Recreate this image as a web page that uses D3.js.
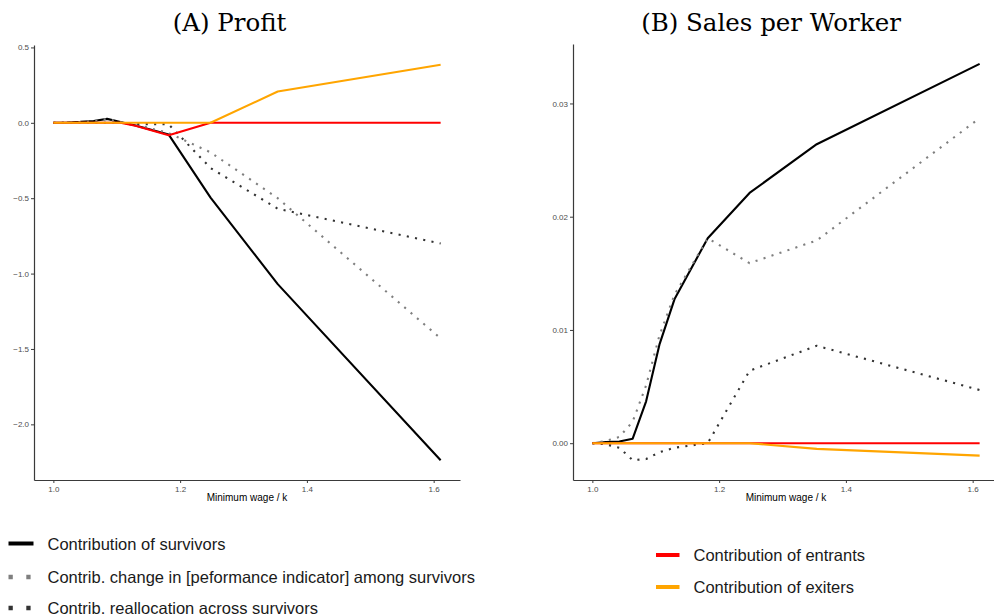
<!DOCTYPE html>
<html>
<head>
<meta charset="utf-8">
<script src="https://cdn.jsdelivr.net/npm/d3@7"></script>
<style>
  body { margin: 0; background: #fff; }
  svg { display: block; }
</style>
</head>
<body>
<div id="chart"></div>
<script>
// minimum wage grid (x)
var wageGrid = [1.0, 1.0213, 1.0426, 1.0636, 1.0848, 1.1058, 1.1295, 1.182, 1.248, 1.354, 1.611];

// (A) Profit
var profitSurvivors = [0, 0.002, 0.006, 0.012, 0.026, 0.006, -0.018, -0.078, -0.496, -1.07, -2.238];
var profitChange    = [0, 0.002, 0.006, 0.012, 0.026, 0.006, -0.010, -0.068, -0.196, -0.50, -1.43];
var profitRealloc   = [0, 0, 0, 0, 0, 0, -0.008, -0.010, -0.300, -0.57, -0.80];
var profitEntrants  = [0, 0, 0, 0, 0, 0, -0.020, -0.082, 0, 0, 0];
var profitExiters   = [0, 0, 0, 0, 0, 0, 0, 0, 0, 0.208, 0.385];

// (B) Sales per Worker
var salesSurvivors = [0, 0.0001, 0.00015, 0.0004, 0.0037, 0.0087, 0.0127, 0.0181, 0.0221, 0.0264, 0.0335];
var salesChange    = [0, 0.0002, 0.00055, 0.0019, 0.0051, 0.0095, 0.0131, 0.0181, 0.0159, 0.0179, 0.0287];
var salesRealloc   = [0, -0.0001, -0.0004, -0.0015, -0.0014, -0.0008, -0.0004, 0, 0.0064, 0.0086, 0.0047];
var salesEntrants  = [0, 0, 0, 0, 0, 0, 0, 0, 0, 0, 0];
var salesExiters   = [0, 0, 0, 0, 0, 0, 0, 0, 0, -0.0005, -0.0011];

// ticks
var xTicks = [1.0, 1.2, 1.4, 1.6];
var profitTicks = [0.5, 0, -0.5, -1.0, -1.5, -2.0];
var salesTicks = [0, 0.01, 0.02, 0.03];

// legend labels
var leftLegend = ["Contribution of survivors",
                  "Contrib. change in [peformance indicator] among survivors",
                  "Contrib. reallocation across survivors"];
var rightLegend = ["Contribution of entrants", "Contribution of exiters"];

var w = 994, h = 616;

var svg = d3.select("#chart").append("svg")
    .attr("width", w)
    .attr("height", h);

// line styles, in drawing order
var styles = {
    survivors: { color: "#000000", dash: null },
    change:    { color: "#7f7f7f", dash: "2.1,6.3" },
    realloc:   { color: "#333333", dash: "2.1,6.3" },
    entrants:  { color: "#ff0000", dash: null },
    exiters:   { color: "#ffa500", dash: null }
};

// ggplot-like 5% expansion
function expand(ext) {
    var pad = (ext[1] - ext[0]) * 0.05;
    return [ext[0] - pad, ext[1] + pad];
}

function drawPanel(opts) {
    var allY = d3.merge(opts.series.map(s => s.values));
    var xScale = d3.scaleLinear()
        .domain(expand(d3.extent(wageGrid)))
        .range([opts.left, opts.right]);
    var yScale = d3.scaleLinear()
        .domain(expand(d3.extent(allY)))
        .range([opts.bottom, opts.top]);

    var g = svg.append("g");

    // clip to panel
    var clipId = "clip" + opts.id;
    svg.append("clipPath").attr("id", clipId)
        .append("rect")
        .attr("x", opts.left).attr("y", opts.top - 5)
        .attr("width", opts.right - opts.left).attr("height", opts.bottom - opts.top + 5);

    var line = d3.line()
        .x((d, i) => xScale(wageGrid[i]))
        .y(d => yScale(d));

    g.append("g").attr("clip-path", "url(#" + clipId + ")")
        .selectAll("path")
        .data(opts.series)
        .enter()
        .append("path")
        .attr("d", d => line(d.values))
        .attr("fill", "none")
        .attr("stroke", d => styles[d.key].color)
        .attr("stroke-width", 2.1)
        .attr("stroke-dasharray", d => styles[d.key].dash)
        .attr("stroke-linejoin", "round");

    // x axis
    var xAxis = g.append("g")
        .attr("transform", `translate(0,${opts.bottom})`)
        .call(d3.axisBottom(xScale).tickValues(xTicks).tickFormat(d3.format(".1f"))
            .tickSize(3).tickPadding(3).tickSizeOuter(0));

    // y axis
    var yAxis = g.append("g")
        .attr("transform", `translate(${opts.left},0)`)
        .call(d3.axisLeft(yScale).tickValues(opts.yTicks).tickFormat(d3.format(opts.yFormat))
            .tickSize(3).tickPadding(2).tickSizeOuter(0));

    [xAxis, yAxis].forEach(a => {
        a.select(".domain").attr("stroke", "#3a3a3a").attr("stroke-width", 1.2);
        a.selectAll(".tick line").attr("stroke", "#3a3a3a").attr("stroke-width", 1);
        a.selectAll(".tick text")
            .attr("fill", "#4d4d4d")
            .style("font-family", "'Liberation Sans', Arial, sans-serif")
            .style("font-size", "8px");
    });

    // axis title
    g.append("text")
        .attr("x", (opts.left + opts.right) / 2)
        .attr("y", opts.bottom + 21)
        .attr("text-anchor", "middle")
        .style("font-family", "'Liberation Sans', Arial, sans-serif")
        .style("font-size", "10px")
        .attr("fill", "#000")
        .text("Minimum wage / k");

    // panel title
    g.append("text")
        .attr("x", opts.titleX)
        .attr("y", 31)
        .attr("text-anchor", "middle")
        .style("font-family", "'DejaVu Serif', 'Liberation Serif', serif")
        .style("font-size", "24.5px")
        .attr("fill", "#000")
        .text(opts.title);
}

drawPanel({
    id: "A", title: "(A) Profit", titleX: 229.5,
    left: 34, right: 460, top: 45, bottom: 480,
    yTicks: profitTicks, yFormat: ".1f",
    series: [
        { key: "survivors", values: profitSurvivors },
        { key: "change", values: profitChange },
        { key: "realloc", values: profitRealloc },
        { key: "entrants", values: profitEntrants },
        { key: "exiters", values: profitExiters }
    ]
});

drawPanel({
    id: "B", title: "(B) Sales per Worker", titleX: 771,
    left: 573, right: 999, top: 44, bottom: 480,
    yTicks: salesTicks, yFormat: ".2f",
    series: [
        { key: "survivors", values: salesSurvivors },
        { key: "change", values: salesChange },
        { key: "realloc", values: salesRealloc },
        { key: "entrants", values: salesEntrants },
        { key: "exiters", values: salesExiters }
    ]
});

// legends
function drawLegend(labels, keys, x0, rowY, keyW) {
    var lg = svg.append("g");
    labels.forEach((label, i) => {
        var st = styles[keys[i]];
        lg.append("line")
            .attr("x1", x0).attr("x2", x0 + keyW)
            .attr("y1", rowY[i]).attr("y2", rowY[i])
            .attr("stroke", st.color)
            .attr("stroke-width", st.dash ? 4.3 : 4)
            .attr("stroke-dasharray", st.dash ? "4.3,13.5" : null);
        lg.append("text")
            .attr("x", x0 + keyW + 14)
            .attr("y", rowY[i] + 6)
            .style("font-family", "'Liberation Sans', Arial, sans-serif")
            .style("font-size", "16.5px")
            .attr("fill", "#1a1a1a")
            .text(label);
    });
}

drawLegend(leftLegend, ["survivors", "change", "realloc"], 8.5, [543.5, 577, 608], 25);
drawLegend(rightLegend, ["entrants", "exiters"], 656, [555, 587], 23.5);
</script>
</body>
</html>
